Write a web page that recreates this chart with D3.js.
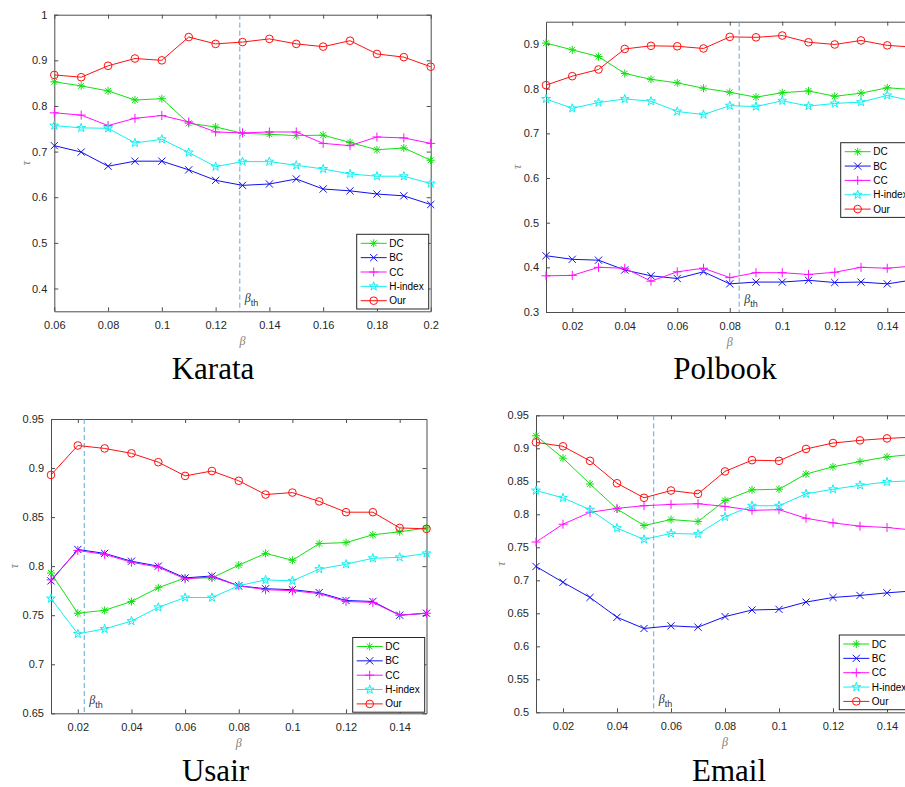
<!DOCTYPE html>
<html><head><meta charset="utf-8">
<script src="https://cdn.jsdelivr.net/npm/d3@7/dist/d3.min.js"></script>
<style>body{margin:0;background:#fff}svg{display:block}</style>
</head><body><svg id="c" width="905" height="787"></svg>
<script>
// ---------------- data ----------------
const seriesNames = ["DC", "BC", "CC", "H-index", "Our"];

const karataBeta = [0.06,0.07,0.08,0.09,0.10,0.11,0.12,0.13,0.14,0.15,0.16,0.17,0.18,0.19,0.20];
const karataDC  = [0.853,0.844,0.833,0.813,0.816,0.762,0.754,0.740,0.738,0.735,0.736,0.720,0.704,0.708,0.681];
const karataBC  = [0.713,0.699,0.668,0.679,0.679,0.660,0.637,0.626,0.629,0.640,0.618,0.614,0.607,0.603,0.584];
const karataCC  = [0.785,0.780,0.757,0.773,0.779,0.765,0.743,0.741,0.743,0.743,0.718,0.713,0.732,0.730,0.718];
const karataH   = [0.757,0.752,0.751,0.719,0.727,0.698,0.667,0.678,0.678,0.670,0.662,0.651,0.646,0.646,0.630];
const karataOur = [0.868,0.863,0.888,0.904,0.900,0.951,0.936,0.940,0.947,0.936,0.930,0.943,0.914,0.907,0.886];
const karataXTicks = [0.06,0.08,0.1,0.12,0.14,0.16,0.18,0.2];
const karataYTicks = [0.4,0.5,0.6,0.7,0.8,0.9,1];
const karataBetaTh = 0.129;

const polbookBeta = [0.01,0.02,0.03,0.04,0.05,0.06,0.07,0.08,0.09,0.10,0.11,0.12,0.13,0.14,0.15];
const polbookDC  = [0.902,0.887,0.872,0.834,0.821,0.813,0.801,0.792,0.781,0.791,0.795,0.783,0.790,0.802,0.798];
const polbookBC  = [0.426,0.418,0.416,0.394,0.381,0.375,0.390,0.363,0.367,0.367,0.371,0.366,0.367,0.363,0.372];
const polbookCC  = [0.381,0.382,0.400,0.398,0.369,0.390,0.398,0.377,0.388,0.388,0.384,0.389,0.400,0.398,0.403];
const polbookH   = [0.777,0.756,0.769,0.777,0.772,0.749,0.742,0.762,0.760,0.773,0.761,0.767,0.770,0.785,0.772];
const polbookOur = [0.808,0.828,0.843,0.889,0.896,0.895,0.890,0.916,0.915,0.919,0.904,0.899,0.908,0.897,0.893];
const polbookXTicks = [0.02,0.04,0.06,0.08,0.1,0.12,0.14];
const polbookYTicks = [0.3,0.4,0.5,0.6,0.7,0.8,0.9];
const polbookBetaTh = 0.0836;

const usairBeta = [0.01,0.02,0.03,0.04,0.05,0.06,0.07,0.08,0.09,0.10,0.11,0.12,0.13,0.14,0.15];
const usairDC  = [0.793,0.752,0.755,0.764,0.778,0.788,0.788,0.801,0.813,0.806,0.823,0.824,0.832,0.835,0.839];
const usairBC  = [0.785,0.817,0.813,0.805,0.800,0.788,0.790,0.780,0.777,0.776,0.773,0.765,0.764,0.750,0.752];
const usairCC  = [0.786,0.816,0.812,0.804,0.799,0.787,0.789,0.780,0.776,0.775,0.772,0.764,0.763,0.750,0.752];
const usairH   = [0.767,0.731,0.736,0.744,0.758,0.768,0.768,0.780,0.786,0.785,0.797,0.802,0.808,0.809,0.813];
const usairOur = [0.893,0.923,0.920,0.915,0.906,0.892,0.897,0.887,0.873,0.875,0.866,0.855,0.855,0.839,0.838];
const usairXTicks = [0.02,0.04,0.06,0.08,0.1,0.12,0.14];
const usairYTicks = [0.65,0.7,0.75,0.8,0.85,0.9,0.95];
const usairBetaTh = 0.0224;

const emailBeta = [0.01,0.02,0.03,0.04,0.05,0.06,0.07,0.08,0.09,0.10,0.11,0.12,0.13,0.14,0.15];
const emailDC  = [0.919,0.885,0.846,0.808,0.783,0.792,0.789,0.821,0.837,0.838,0.861,0.872,0.880,0.887,0.891];
const emailBC  = [0.721,0.697,0.674,0.644,0.627,0.631,0.629,0.645,0.655,0.656,0.667,0.674,0.677,0.681,0.684];
const emailCC  = [0.758,0.785,0.803,0.809,0.813,0.815,0.816,0.812,0.806,0.807,0.794,0.787,0.782,0.780,0.776];
const emailH   = [0.836,0.825,0.807,0.779,0.762,0.771,0.770,0.796,0.813,0.813,0.831,0.838,0.844,0.849,0.851];
const emailOur = [0.909,0.903,0.881,0.847,0.825,0.836,0.831,0.865,0.882,0.881,0.899,0.908,0.912,0.915,0.917];
const emailXTicks = [0.02,0.04,0.06,0.08,0.1,0.12,0.14];
const emailYTicks = [0.5,0.55,0.6,0.65,0.7,0.75,0.8,0.85,0.9,0.95];
const emailBetaTh = 0.0536;

// ---------------- styles / layout ----------------
const colors  = ["#11e011", "#1010f0", "#ff10ff", "#10f0f0", "#ff1010"];
const markers = ["asterisk", "cross", "plus", "star", "circle"];

const panels = [
  {title:"Karata", beta:karataBeta, series:[karataDC,karataBC,karataCC,karataH,karataOur],
   xDomain:[0.06,0.2], yDomain:[0.35,1], xTicks:karataXTicks, yTicks:karataYTicks, betaTh:karataBetaTh,
   box:{l:54.3,r:430.7,t:14.7,b:311.3}, legend:{x:356.7,y:234.3}, titlePos:[213,379], tauX:25.5},
  {title:"Polbook", beta:polbookBeta, series:[polbookDC,polbookBC,polbookCC,polbookH,polbookOur],
   xDomain:[0.01,0.15], yDomain:[0.3,0.95], xTicks:polbookXTicks, yTicks:polbookYTicks, betaTh:polbookBetaTh,
   box:{l:546,r:913.5,t:21.7,b:312}, legend:{x:840.7,y:142.7}, titlePos:[725,379], tauX:517},
  {title:"Usair", beta:usairBeta, series:[usairDC,usairBC,usairCC,usairH,usairOur],
   xDomain:[0.01,0.15], yDomain:[0.65,0.95], xTicks:usairXTicks, yTicks:usairYTicks, betaTh:usairBetaTh,
   box:{l:51,r:426.5,t:419,b:713.3}, legend:{x:352.7,y:637.5}, titlePos:[215.5,781], tauX:13.5},
  {title:"Email", beta:emailBeta, series:[emailDC,emailBC,emailCC,emailH,emailOur],
   xDomain:[0.01,0.15], yDomain:[0.5,0.95], xTicks:emailXTicks, yTicks:emailYTicks, betaTh:emailBetaTh,
   box:{l:536,r:914,t:415.3,b:712.3}, legend:{x:839.3,y:635}, titlePos:[729,781], tauX:501}
];

const svg = d3.select("#c");
const fmt = d3.format("~g");
const axisColor = "#4d4d4d";

function markerPath(type) {
  switch (type) {
    case "asterisk": return "M-4,0L4,0M0,-4L0,4M-2.9,-2.9L2.9,2.9M-2.9,2.9L2.9,-2.9";
    case "cross": return "M-3.6,-3.6L3.6,3.6M-3.6,3.6L3.6,-3.6";
    case "plus": return "M-4.5,0L4.5,0M0,-4.5L0,4.5";
    case "star": return d3.symbol(d3.symbolStar, 24)();
    case "circle": return d3.symbol(d3.symbolCircle, 46)();
  }
}

function styleAxis(g) {
  g.selectAll("path.domain").attr("stroke", axisColor).attr("stroke-width", 1);
  g.selectAll(".tick line").attr("stroke", axisColor).attr("stroke-width", 1);
  g.selectAll(".tick text").attr("fill", "#262626")
    .style("font-family", "'Liberation Sans', Arial, sans-serif").style("font-size", "11px");
}

panels.forEach(p => {
  const b = p.box;
  const x = d3.scaleLinear().domain(p.xDomain).range([b.l, b.r]);
  const y = d3.scaleLinear().domain(p.yDomain).range([b.b, b.t]);
  const g = svg.append("g");

  // axes (box with inward ticks)
  const gb = g.append("g").attr("transform", `translate(0,${b.b})`)
    .call(d3.axisBottom(x).tickValues(p.xTicks).tickFormat(fmt).tickSizeInner(-4).tickSizeOuter(0).tickPadding(9.7));
  const gt = g.append("g").attr("transform", `translate(0,${b.t})`)
    .call(d3.axisTop(x).tickValues(p.xTicks).tickFormat("").tickSizeInner(-4).tickSizeOuter(0));
  const gl = g.append("g").attr("transform", `translate(${b.l},0)`)
    .call(d3.axisLeft(y).tickValues(p.yTicks).tickFormat(fmt).tickSizeInner(-4).tickSizeOuter(0).tickPadding(7));
  const gr = g.append("g").attr("transform", `translate(${b.r},0)`)
    .call(d3.axisRight(y).tickValues(p.yTicks).tickFormat("").tickSizeInner(-4).tickSizeOuter(0));
  [gb, gt, gl, gr].forEach(styleAxis);

  // axis labels
  g.append("text").attr("x", (b.l + b.r) / 2).attr("y", b.b + 34)
    .attr("text-anchor", "middle").attr("fill", "#808080")
    .style("font-family", "'Liberation Serif', serif").style("font-style", "italic").style("font-size", "12px")
    .text("β");
  g.append("text").attr("transform", `translate(${p.tauX},${(b.t + b.b) / 2}) rotate(-90)`)
    .attr("text-anchor", "middle").attr("dy", "0.35em").attr("fill", "#808080")
    .style("font-family", "'Liberation Serif', serif").style("font-style", "italic").style("font-size", "12px")
    .text("τ");

  // threshold line
  const vx = x(p.betaTh);
  g.append("line").attr("x1", vx).attr("x2", vx).attr("y1", b.t).attr("y2", b.b)
    .attr("stroke", "#5aaae0").attr("stroke-width", 1).attr("stroke-dasharray", "5,3");
  const bt = g.append("text").attr("x", vx + 5).attr("y", b.b - 9.5).attr("fill", "#333");
  bt.append("tspan").style("font-family", "'Liberation Serif', serif").style("font-style", "italic")
    .style("font-size", "12px").text("β");
  bt.append("tspan").attr("dy", 4.5).style("font-family", "'Liberation Sans', Arial, sans-serif")
    .style("font-size", "9px").text("th");

  // series
  const line = d3.line().x(d => x(d[0])).y(d => y(d[1]));
  p.series.forEach((vals, i) => {
    const pts = p.beta.map((bv, j) => [bv, vals[j]]);
    g.append("path").datum(pts).attr("d", line).attr("fill", "none")
      .attr("stroke", colors[i]).attr("stroke-width", 1);
    g.append("g").selectAll("path").data(pts).join("path")
      .attr("transform", d => `translate(${x(d[0])},${y(d[1])})`)
      .attr("d", markerPath(markers[i])).attr("fill", "none")
      .attr("stroke", colors[i]).attr("stroke-width", 1);
  });

  // legend
  const L = p.legend, lw = 72, lh = 74.7;
  const lg = g.append("g");
  lg.append("rect").attr("x", L.x).attr("y", L.y).attr("width", lw).attr("height", lh)
    .attr("fill", "#fff").attr("stroke", "#262626").attr("stroke-width", 1);
  seriesNames.forEach((name, i) => {
    const yy = L.y + 9 + i * 14.35;
    lg.append("line").attr("x1", L.x + 4).attr("x2", L.x + 30).attr("y1", yy).attr("y2", yy)
      .attr("stroke", colors[i]).attr("stroke-width", 1);
    lg.append("path").attr("transform", `translate(${L.x + 17},${yy})`).attr("d", markerPath(markers[i]))
      .attr("fill", "none").attr("stroke", colors[i]).attr("stroke-width", 1);
    lg.append("text").attr("x", L.x + 32.5).attr("y", yy).attr("dy", "0.35em").attr("fill", "#000")
      .style("font-family", "'Liberation Sans', Arial, sans-serif").style("font-size", "10px").text(name);
  });

  // caption
  svg.append("text").attr("x", p.titlePos[0]).attr("y", p.titlePos[1]).attr("text-anchor", "middle")
    .attr("fill", "#000").style("font-family", "'Liberation Serif', 'Times New Roman', serif")
    .style("font-size", "31px").text(p.title);
});
</script></body></html>
